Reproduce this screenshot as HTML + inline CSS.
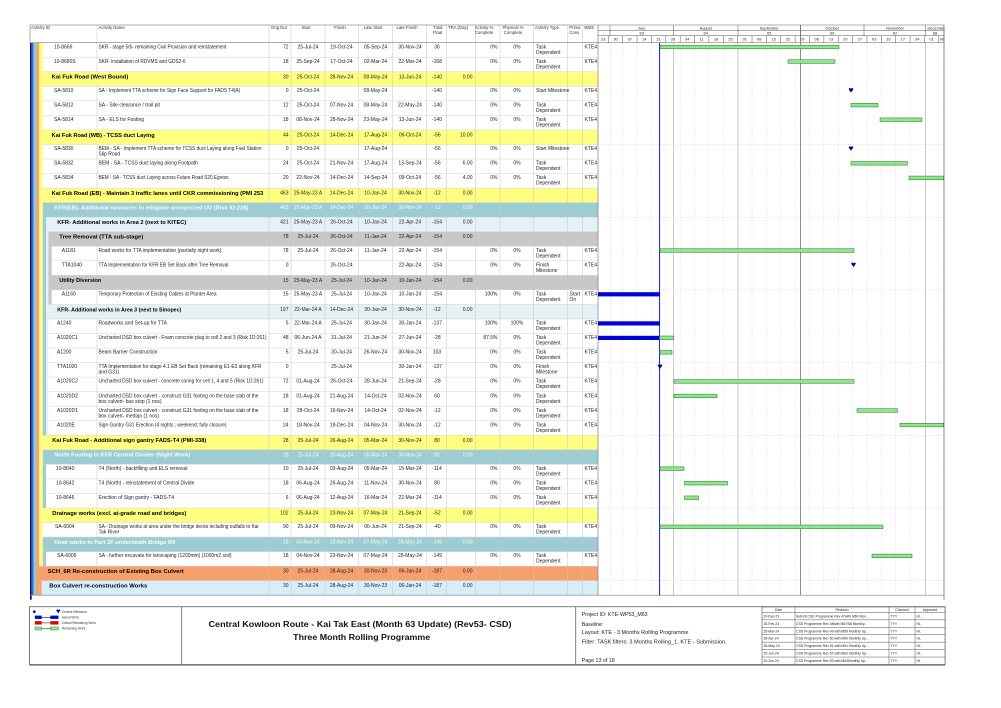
<!DOCTYPE html>
<html><head><meta charset="utf-8"><style>
html,body{margin:0;padding:0;background:#fff;}
svg{display:block}
text{font-family:"Liberation Sans",Arial,sans-serif;}
.a{font-size:5px;fill:#222}
.m{text-anchor:middle}
.e{text-anchor:end}
.b{font-size:5.2px;font-weight:bold;fill:#000}
.w{fill:#f4fbfb}
.h{font-size:4.3px;fill:#333}
.gh{font-size:3.9px;fill:#222}
.lg{font-size:3.2px;fill:#333}
.rv{font-size:3.4px;fill:#222}
.pi{font-size:5.3px;fill:#222}
.ti{font-size:8px;font-weight:bold;fill:#111}
.gb{fill:#8be88b;stroke:#2a6a2a;stroke-width:.5}
.ab{fill:#0000d8}
.ms{fill:#000080}
</style></head><body>
<svg width="1001" height="708" viewBox="0 0 1001 708" xmlns="http://www.w3.org/2000/svg">
<defs><clipPath id="gc"><rect x="598" y="20" width="346" height="580"/></clipPath></defs>
<rect x="0" y="0" width="1001" height="708" fill="#fff"/>

<!-- row fills -->
<g>
<rect x="39.3" y="71.78" width="558.7" height="14.54" fill="#ffff80"/>
<rect x="39.3" y="129.94" width="558.7" height="14.54" fill="#ffff80"/>
<rect x="39.3" y="188.1" width="558.7" height="14.54" fill="#ffff80"/>
<rect x="42.7" y="202.64" width="555.3" height="14.54" fill="#9dcdd2"/>
<rect x="46" y="217.18" width="552" height="14.54" fill="#e4f2f5"/>
<rect x="48.3" y="231.72" width="549.7" height="14.54" fill="#c8c8c8"/>
<rect x="48.3" y="275.34" width="549.7" height="14.54" fill="#c8c8c8"/>
<rect x="46" y="304.42" width="552" height="14.54" fill="#e4f2f5"/>
<rect x="39.3" y="435.28" width="558.7" height="14.54" fill="#ffff80"/>
<rect x="42.7" y="449.82" width="555.3" height="14.54" fill="#9dcdd2"/>
<rect x="39.3" y="507.98" width="558.7" height="14.54" fill="#ffff80"/>
<rect x="42.7" y="537.06" width="555.3" height="14.54" fill="#9dcdd2"/>
<rect x="36" y="566.14" width="562" height="14.54" fill="#f6a06e"/>
<rect x="41.7" y="580.68" width="556.3" height="14.54" fill="#d5eef8"/>
</g>

<!-- horizontal row lines -->
<path stroke="#d4d4d4" stroke-width="0.5" fill="none" d="M42.7 57.24H598M42.7 71.78H598M42.7 86.32H598M42.7 100.86H598M42.7 115.4H598M42.7 129.94H598M42.7 144.48H598M42.7 159.02H598M42.7 173.56H598M42.7 188.1H598M42.7 202.64H598M42.7 217.18H598M42.7 231.72H598M42.7 246.26H598M42.7 260.8H598M42.7 275.34H598M42.7 289.88H598M42.7 304.42H598M42.7 318.96H598M42.7 333.5H598M42.7 348.04H598M42.7 362.58H598M42.7 377.12H598M42.7 391.66H598M42.7 406.2H598M42.7 420.74H598M42.7 435.28H598M42.7 449.82H598M42.7 464.36H598M42.7 478.9H598M42.7 493.44H598M42.7 507.98H598M42.7 522.52H598M42.7 537.06H598M42.7 551.6H598M42.7 566.14H598M42.7 580.68H598"/>

<!-- vertical column lines -->
<path stroke="#c4c4c4" stroke-width="0.5" fill="none" d="M269 25V595.2M291 25V595.2M325 25V595.2M358.3 25V595.2M392.7 25V595.2M426.7 25V595.2M446.7 25V595.2M475.3 25V595.2M500 25V595.2M533.7 25V595.2M567.7 25V595.2M582.7 25V595.2M97 25V42.7M97 42.7V71.78M97 86.32V129.94M97 144.48V188.1M97 246.26V275.34M97 289.88V304.42M97 318.96V435.28M97 464.36V507.98M97 522.52V537.06M97 551.6V566.14"/>

<!-- left stripes -->
<rect x="30" y="42.7" width="1.7" height="557" fill="#101070"/>
<rect x="31.7" y="42.7" width="2" height="552.5" fill="#3470c8"/>
<rect x="33.7" y="42.7" width="2.3" height="552.5" fill="#8ccbe8"/>
<rect x="36" y="42.7" width="3.3" height="552.5" fill="#f4a46e"/>
<rect x="39.3" y="42.7" width="3.4" height="523.44" fill="#ffff80"/>
<rect x="39.3" y="580.68" width="2.4" height="14.54" fill="#f4a46e"/>
<rect x="42.7" y="217.18" width="3.3" height="218.1" fill="#9dcdd2"/>
<rect x="42.7" y="464.36" width="3.3" height="43.62" fill="#9dcdd2"/>
<rect x="42.7" y="551.6" width="3.3" height="14.54" fill="#9dcdd2"/>
<rect x="46" y="231.72" width="2.3" height="72.7" fill="#e4f2f5"/>
<rect x="46" y="318.96" width="2.3" height="116.32" fill="#e4f2f5"/>
<rect x="48.3" y="246.26" width="3.4" height="29.08" fill="#c8c8c8"/>
<rect x="48.3" y="289.88" width="3.4" height="14.54" fill="#c8c8c8"/>

<!-- header -->
<rect x="30" y="25" width="914" height="17.7" fill="none" stroke="#777" stroke-width="0.6"/>
<text class="h" x="31" y="29">Activity ID</text>
<text class="h" x="98.5" y="29">Activity Name</text>
<text class="h" x="271" y="29">Orig Dur</text>
<text class="h m" x="306" y="29">Start</text>
<text class="h m" x="340" y="29">Finish</text>
<text class="h m" x="373" y="29">Late Start</text>
<text class="h m" x="407" y="29">Late Finish</text>
<text class="h e" x="442.5" y="29">Total</text>
<text class="h e" x="442.5" y="34">Float</text>
<text class="h" x="448" y="29">TRA (Day)</text>
<text class="h m" x="484" y="29">Activity %</text>
<text class="h m" x="484" y="34">Complete</text>
<text class="h m" x="513" y="29">Physical %</text>
<text class="h m" x="513" y="34">Complete</text>
<text class="h" x="535" y="29">Activity Type</text>
<text class="h" x="569.3" y="29">Prima</text>
<text class="h" x="569.3" y="34">Cons</text>
<text class="h" x="584.3" y="29">WBS</text>

<!-- gantt header -->
<g clip-path="url(#gc)">
<path stroke="#555" stroke-width="0.5" fill="none" d="M598 30.3H944M598 35.7H944M610 25V35.7M673.5 25V35.7M738 25V35.7M800.5 25V35.7M864 25V35.7M925.5 25V35.7M608.3 35.7V42.7M622.67 35.7V42.7M637.04 35.7V42.7M651.41 35.7V42.7M665.78 35.7V42.7M680.16 35.7V42.7M694.53 35.7V42.7M708.9 35.7V42.7M723.27 35.7V42.7M737.64 35.7V42.7M752.01 35.7V42.7M766.38 35.7V42.7M780.75 35.7V42.7M795.12 35.7V42.7M809.49 35.7V42.7M823.87 35.7V42.7M838.24 35.7V42.7M852.61 35.7V42.7M866.98 35.7V42.7M881.35 35.7V42.7M895.72 35.7V42.7M910.09 35.7V42.7M924.46 35.7V42.7M938.83 35.7V42.7"/>
<text class="gh m" x="641.7" y="29.3">July</text>
<text class="gh m" x="705.7" y="29.3">August</text>
<text class="gh m" x="769.2" y="29.3">September</text>
<text class="gh m" x="832.2" y="29.3">October</text>
<text class="gh m" x="895" y="29.3">November</text>
<text class="gh" x="927.5" y="29.3">December</text>
<text class="gh m" x="641.7" y="34.6">63</text>
<text class="gh m" x="705.7" y="34.6">64</text>
<text class="gh m" x="769.2" y="34.6">65</text>
<text class="gh m" x="832.2" y="34.6">66</text>
<text class="gh m" x="895" y="34.6">67</text>
<text class="gh m" x="935" y="34.6">68</text>
<g class="gh">
<text class="m" x="603.2" y="40.6">23</text>
<text class="m" x="615.5" y="40.6">30</text>
<text class="m" x="629.9" y="40.6">07</text>
<text class="m" x="644.2" y="40.6">14</text>
<text class="m" x="658.6" y="40.6">21</text>
<text class="m" x="673" y="40.6">28</text>
<text class="m" x="687.3" y="40.6">04</text>
<text class="m" x="701.7" y="40.6">11</text>
<text class="m" x="716.1" y="40.6">18</text>
<text class="m" x="730.5" y="40.6">25</text>
<text class="m" x="744.8" y="40.6">01</text>
<text class="m" x="759.2" y="40.6">08</text>
<text class="m" x="773.6" y="40.6">15</text>
<text class="m" x="787.9" y="40.6">22</text>
<text class="m" x="802.3" y="40.6">29</text>
<text class="m" x="816.7" y="40.6">06</text>
<text class="m" x="831.1" y="40.6">13</text>
<text class="m" x="845.4" y="40.6">20</text>
<text class="m" x="859.8" y="40.6">27</text>
<text class="m" x="874.2" y="40.6">03</text>
<text class="m" x="888.5" y="40.6">10</text>
<text class="m" x="902.9" y="40.6">17</text>
<text class="m" x="917.3" y="40.6">24</text>
<text class="m" x="931.6" y="40.6">01</text>
<text x="940" y="40.6">08</text>
</g>
</g>

<!-- gantt body grid -->
<path stroke="#c8c8c8" stroke-width="0.5" stroke-dasharray="1,1.5" fill="none" d="M610.3 42.7V595.2M622.67 42.7V595.2M637.04 42.7V595.2M651.41 42.7V595.2M665.78 42.7V595.2M680.16 42.7V595.2M694.53 42.7V595.2M708.9 42.7V595.2M723.27 42.7V595.2M752.01 42.7V595.2M766.38 42.7V595.2M780.75 42.7V595.2M795.12 42.7V595.2M809.49 42.7V595.2M823.87 42.7V595.2M838.24 42.7V595.2M852.61 42.7V595.2M866.98 42.7V595.2M881.35 42.7V595.2M895.72 42.7V595.2M910.09 42.7V595.2M938.83 42.7V595.2M598 144.48H944M598 217.18H944M598 289.88H944M598 362.58H944M598 435.28H944M598 507.98H944M598 580.68H944"/>
<path stroke="#b4b4b4" stroke-width="0.7" fill="none" d="M673.5 42.7V595.2M738 42.7V595.2M925.5 42.7V595.2"/>
<path stroke="#707070" stroke-width="0.8" fill="none" d="M800.5 25V595.2"/>
<path stroke="#808080" stroke-width="0.7" fill="none" d="M598 25V595.2M30 595.2H944"/>
<path stroke="#707070" stroke-width="0.8" fill="none" d="M944 25V599.5"/>

<!-- data date -->
<path stroke="#0000ff" stroke-width="0.9" d="M659.6 42.7V595.5"/>

<!-- bars -->
<g>
<rect class="gb" x="660" y="45.2" width="179" height="3.6"/>
<rect class="gb" x="788" y="59.74" width="47" height="3.6"/>
<rect class="gb" x="851" y="103.36" width="27" height="3.6"/>
<rect class="gb" x="880" y="117.9" width="42" height="3.6"/>
<rect class="gb" x="851" y="161.52" width="56.5" height="3.6"/>
<rect class="gb" x="909" y="176.06" width="34.5" height="3.6"/>
<rect class="gb" x="660" y="248.76" width="194" height="3.6"/>
<rect class="ab" x="598" y="292.2" width="62" height="4.2"/>
<rect class="ab" x="598" y="321.3" width="62" height="4.2"/>
<rect class="ab" x="598" y="335.8" width="61.5" height="4.2"/>
<rect class="gb" x="659.5" y="336" width="14" height="3.6"/>
<rect class="gb" x="660" y="350.54" width="12" height="3.6"/>
<rect class="gb" x="674" y="379.62" width="180" height="3.6"/>
<rect class="gb" x="674" y="394.16" width="43" height="3.6"/>
<rect class="gb" x="857" y="408.7" width="40.5" height="3.6"/>
<rect class="gb" x="900" y="423.24" width="43.5" height="3.6"/>
<rect class="gb" x="660" y="466.86" width="24" height="3.6"/>
<rect class="gb" x="684.5" y="481.4" width="43" height="3.6"/>
<rect class="gb" x="684.5" y="495.94" width="14" height="3.6"/>
<rect class="gb" x="660" y="525.02" width="223" height="3.6"/>
<rect class="gb" x="872" y="554.1" width="40" height="3.6"/>
<path class="ms" transform="translate(851,88.3)" d="M-2.3 0.9C-2.3-0.3-0.6-0.5 0 0.6 0.6-0.5 2.3-0.3 2.3 0.9L0 4.3Z"/>
<path class="ms" transform="translate(851,146.5)" d="M-2.3 0.9C-2.3-0.3-0.6-0.5 0 0.6 0.6-0.5 2.3-0.3 2.3 0.9L0 4.3Z"/>
<path class="ms" transform="translate(853.5,262.8)" d="M-2.3 0.9C-2.3-0.3-0.6-0.5 0 0.6 0.6-0.5 2.3-0.3 2.3 0.9L0 4.3Z"/>
<path class="ms" transform="translate(660,364.6)" d="M-2.3 0.9C-2.3-0.3-0.6-0.5 0 0.6 0.6-0.5 2.3-0.3 2.3 0.9L0 4.3Z"/>
</g>

<!-- rows -->
<g transform="translate(0,42.7)">
<text class="a" x="54" y="5.6">10-8666</text>
<text class="a" x="98.5" y="5.6" textLength="128" lengthAdjust="spacingAndGlyphs">SKR - stage 5/6- remaining Civil Provision and reinstatement</text>
<text class="a e" x="288.5" y="5.6">72</text><text class="a m" x="308" y="5.6">25-Jul-24</text><text class="a m" x="341.5" y="5.6">19-Oct-24</text><text class="a m" x="375.5" y="5.6">05-Sep-24</text><text class="a m" x="410" y="5.6">30-Nov-24</text><text class="a m" x="437" y="5.6">36</text>
<text class="a e" x="497.5" y="5.6">0%</text><text class="a m" x="517" y="5.6">0%</text><text class="a" x="536" y="5.6">Task</text><text class="a" x="536" y="11.1">Dependent</text><text class="a" x="584.5" y="5.6">KTE4</text>
</g>
<g transform="translate(0,57.24)">
<text class="a" x="54" y="5.6">10-8680S</text>
<text class="a" x="98.5" y="5.6" textLength="87" lengthAdjust="spacingAndGlyphs">SKR- installation of RDVMS and GDS2-6</text>
<text class="a e" x="288.5" y="5.6">18</text><text class="a m" x="308" y="5.6">25-Sep-24</text><text class="a m" x="341.5" y="5.6">17-Oct-24</text><text class="a m" x="375.5" y="5.6">02-Mar-24</text><text class="a m" x="410" y="5.6">22-Mar-24</text><text class="a m" x="437" y="5.6">-168</text>
<text class="a e" x="497.5" y="5.6">0%</text><text class="a m" x="517" y="5.6">0%</text><text class="a" x="536" y="5.6">Task</text><text class="a" x="536" y="11.1">Dependent</text><text class="a" x="584.5" y="5.6">KTE4</text>
</g>
<g transform="translate(0,71.78)">
<text class="b" x="51.7" y="6.9" textLength="76.6" lengthAdjust="spacingAndGlyphs">Kai Fuk Road (West Bound)</text>
<text class="a e" x="288.5" y="6.5">30</text><text class="a m" x="308" y="6.5">25-Oct-24</text><text class="a m" x="341.5" y="6.5">28-Nov-24</text><text class="a m" x="375.5" y="6.5">08-May-24</text><text class="a m" x="410" y="6.5">13-Jun-24</text><text class="a m" x="437" y="6.5">-140</text><text class="a e" x="472.5" y="6.5">0.00</text>
</g>
<g transform="translate(0,86.32)">
<text class="a" x="54" y="5.6">SA-5810</text>
<text class="a" x="98.5" y="5.6" textLength="141.7" lengthAdjust="spacingAndGlyphs">SA - Implement TTA scheme for Sign Face Support for FADS T4(A)</text>
<text class="a e" x="288.5" y="5.6">0</text><text class="a m" x="308" y="5.6">25-Oct-24</text><text class="a m" x="375.5" y="5.6">08-May-24</text><text class="a m" x="437" y="5.6">-140</text>
<text class="a e" x="497.5" y="5.6">0%</text><text class="a m" x="517" y="5.6">0%</text><text class="a" x="536" y="5.6">Start Milestone</text><text class="a" x="584.5" y="5.6">KTE4</text>
</g>
<g transform="translate(0,100.86)">
<text class="a" x="54" y="5.6">SA-5812</text>
<text class="a" x="98.5" y="5.6">SA - Site clearance / trail pit</text>
<text class="a e" x="288.5" y="5.6">12</text><text class="a m" x="308" y="5.6">25-Oct-24</text><text class="a m" x="341.5" y="5.6">07-Nov-24</text><text class="a m" x="375.5" y="5.6">08-May-24</text><text class="a m" x="410" y="5.6">22-May-24</text><text class="a m" x="437" y="5.6">-140</text>
<text class="a e" x="497.5" y="5.6">0%</text><text class="a m" x="517" y="5.6">0%</text><text class="a" x="536" y="5.6">Task</text><text class="a" x="536" y="11.1">Dependent</text><text class="a" x="584.5" y="5.6">KTE4</text>
</g>
<g transform="translate(0,115.4)">
<text class="a" x="54" y="5.6">SA-5814</text>
<text class="a" x="98.5" y="5.6">SA - ELS for Footing</text>
<text class="a e" x="288.5" y="5.6">18</text><text class="a m" x="308" y="5.6">08-Nov-24</text><text class="a m" x="341.5" y="5.6">28-Nov-24</text><text class="a m" x="375.5" y="5.6">23-May-24</text><text class="a m" x="410" y="5.6">13-Jun-24</text><text class="a m" x="437" y="5.6">-140</text>
<text class="a e" x="497.5" y="5.6">0%</text><text class="a m" x="517" y="5.6">0%</text><text class="a" x="536" y="5.6">Task</text><text class="a" x="536" y="11.1">Dependent</text><text class="a" x="584.5" y="5.6">KTE4</text>
</g>
<g transform="translate(0,129.94)">
<text class="b" x="51.7" y="6.9" textLength="103" lengthAdjust="spacingAndGlyphs">Kai Fuk Road (WB) - TCSS duct Laying</text>
<text class="a e" x="288.5" y="6.5">44</text><text class="a m" x="308" y="6.5">25-Oct-24</text><text class="a m" x="341.5" y="6.5">14-Dec-24</text><text class="a m" x="375.5" y="6.5">17-Aug-24</text><text class="a m" x="410" y="6.5">09-Oct-24</text><text class="a m" x="437" y="6.5">-56</text><text class="a e" x="472.5" y="6.5">10.00</text>
</g>
<g transform="translate(0,144.48)">
<text class="a" x="54" y="5.6">SA-5830</text>
<text class="a" x="98.5" y="5.6" textLength="163" lengthAdjust="spacingAndGlyphs">BEM - SA - Implement TTA scheme for TCSS duct Laying along Fuel Station</text>
<text class="a" x="98.5" y="11.1">Slip Road</text>
<text class="a e" x="288.5" y="5.6">0</text><text class="a m" x="308" y="5.6">25-Oct-24</text><text class="a m" x="375.5" y="5.6">17-Aug-24</text><text class="a m" x="437" y="5.6">-56</text>
<text class="a e" x="497.5" y="5.6">0%</text><text class="a m" x="517" y="5.6">0%</text><text class="a" x="536" y="5.6">Start Milestone</text><text class="a" x="584.5" y="5.6">KTE4</text>
</g>
<g transform="translate(0,159.02)">
<text class="a" x="54" y="5.6">SA-5832</text>
<text class="a" x="98.5" y="5.6">BEM - SA - TCSS duct laying along Footpath</text>
<text class="a e" x="288.5" y="5.6">24</text><text class="a m" x="308" y="5.6">25-Oct-24</text><text class="a m" x="341.5" y="5.6">21-Nov-24</text><text class="a m" x="375.5" y="5.6">17-Aug-24</text><text class="a m" x="410" y="5.6">13-Sep-24</text><text class="a m" x="437" y="5.6">-56</text><text class="a e" x="472.5" y="5.6">6.00</text>
<text class="a e" x="497.5" y="5.6">0%</text><text class="a m" x="517" y="5.6">0%</text><text class="a" x="536" y="5.6">Task</text><text class="a" x="536" y="11.1">Dependent</text><text class="a" x="584.5" y="5.6">KTE4</text>
</g>
<g transform="translate(0,173.56)">
<text class="a" x="54" y="5.6">SA-5834</text>
<text class="a" x="98.5" y="5.6" textLength="130" lengthAdjust="spacingAndGlyphs">BEM - SA - TCSS duct Laying across Future Road S20 Egress</text>
<text class="a e" x="288.5" y="5.6">20</text><text class="a m" x="308" y="5.6">22-Nov-24</text><text class="a m" x="341.5" y="5.6">14-Dec-24</text><text class="a m" x="375.5" y="5.6">14-Sep-24</text><text class="a m" x="410" y="5.6">09-Oct-24</text><text class="a m" x="437" y="5.6">-56</text><text class="a e" x="472.5" y="5.6">4.00</text>
<text class="a e" x="497.5" y="5.6">0%</text><text class="a m" x="517" y="5.6">0%</text><text class="a" x="536" y="5.6">Task</text><text class="a" x="536" y="11.1">Dependent</text><text class="a" x="584.5" y="5.6">KTE4</text>
</g>
<g transform="translate(0,188.1)">
<text class="b" x="51.7" y="6.9" textLength="211.6" lengthAdjust="spacingAndGlyphs">Kai Fuk Road (EB) - Maintain 3 traffic lanes until CKR commissioning (PMI 253</text>
<text class="a e" x="288.5" y="6.5">463</text><text class="a m" x="308" y="6.5">25-May-23 A</text><text class="a m" x="341.5" y="6.5">14-Dec-24</text><text class="a m" x="375.5" y="6.5">10-Jan-24</text><text class="a m" x="410" y="6.5">30-Nov-24</text><text class="a m" x="437" y="6.5">-12</text><text class="a e" x="472.5" y="6.5">0.00</text>
</g>
<g transform="translate(0,202.64)">
<text class="b w" x="54.3" y="6.9" textLength="194" lengthAdjust="spacingAndGlyphs">KFR(EB)- Additional measures to mitigiate unexpected UU (Risk ID:228)</text>
<text class="a e w" x="288.5" y="6.5">463</text><text class="a m w" x="308" y="6.5">25-May-23 A</text><text class="a m w" x="341.5" y="6.5">14-Dec-24</text><text class="a m w" x="375.5" y="6.5">10-Jan-24</text><text class="a m w" x="410" y="6.5">30-Nov-24</text><text class="a m w" x="437" y="6.5">-12</text><text class="a e w" x="472.5" y="6.5">0.00</text>
</g>
<g transform="translate(0,217.18)">
<text class="b" x="57.3" y="6.9" textLength="129" lengthAdjust="spacingAndGlyphs">KFR- Additional works in Area 2 (next to KITEC)</text>
<text class="a e" x="288.5" y="6.5">421</text><text class="a m" x="308" y="6.5">25-May-23 A</text><text class="a m" x="341.5" y="6.5">26-Oct-24</text><text class="a m" x="375.5" y="6.5">10-Jan-24</text><text class="a m" x="410" y="6.5">22-Apr-24</text><text class="a m" x="437" y="6.5">-154</text><text class="a e" x="472.5" y="6.5">0.00</text>
</g>
<g transform="translate(0,231.72)">
<text class="b" x="59.3" y="6.9" textLength="84" lengthAdjust="spacingAndGlyphs">Tree Removal (TTA sub-stage)</text>
<text class="a e" x="288.5" y="6.5">78</text><text class="a m" x="308" y="6.5">25-Jul-24</text><text class="a m" x="341.5" y="6.5">26-Oct-24</text><text class="a m" x="375.5" y="6.5">11-Jan-24</text><text class="a m" x="410" y="6.5">22-Apr-24</text><text class="a m" x="437" y="6.5">-154</text><text class="a e" x="472.5" y="6.5">0.00</text>
</g>
<g transform="translate(0,246.26)">
<text class="a" x="61.7" y="5.6">A1181</text>
<text class="a" x="98.5" y="5.6" textLength="123" lengthAdjust="spacingAndGlyphs">Road works for TTA implementation (partially night work)</text>
<text class="a e" x="288.5" y="5.6">78</text><text class="a m" x="308" y="5.6">25-Jul-24</text><text class="a m" x="341.5" y="5.6">26-Oct-24</text><text class="a m" x="375.5" y="5.6">11-Jan-24</text><text class="a m" x="410" y="5.6">22-Apr-24</text><text class="a m" x="437" y="5.6">-154</text>
<text class="a e" x="497.5" y="5.6">0%</text><text class="a m" x="517" y="5.6">0%</text><text class="a" x="536" y="5.6">Task</text><text class="a" x="536" y="11.1">Dependent</text><text class="a" x="584.5" y="5.6">KTE4</text>
</g>
<g transform="translate(0,260.8)">
<text class="a" x="61.7" y="5.6">TTA1040</text>
<text class="a" x="98.5" y="5.6" textLength="130" lengthAdjust="spacingAndGlyphs">TTA Implementation for KFR EB Set Back after Tree Removal</text>
<text class="a e" x="288.5" y="5.6">0</text><text class="a m" x="341.5" y="5.6">26-Oct-24</text><text class="a m" x="410" y="5.6">22-Apr-24</text><text class="a m" x="437" y="5.6">-154</text>
<text class="a e" x="497.5" y="5.6">0%</text><text class="a m" x="517" y="5.6">0%</text><text class="a" x="536" y="5.6">Finish</text><text class="a" x="536" y="11.1">Milestone</text><text class="a" x="584.5" y="5.6">KTE4</text>
</g>
<g transform="translate(0,275.34)">
<text class="b" x="59.3" y="6.9" textLength="42" lengthAdjust="spacingAndGlyphs">Utility Diversion</text>
<text class="a e" x="288.5" y="6.5">15</text><text class="a m" x="308" y="6.5">25-May-23 A</text><text class="a m" x="341.5" y="6.5">25-Jul-24</text><text class="a m" x="375.5" y="6.5">10-Jan-24</text><text class="a m" x="410" y="6.5">10-Jan-24</text><text class="a m" x="437" y="6.5">-154</text><text class="a e" x="472.5" y="6.5">0.00</text>
</g>
<g transform="translate(0,289.88)">
<text class="a" x="61.7" y="5.6">A1160</text>
<text class="a" x="98.5" y="5.6" textLength="118" lengthAdjust="spacingAndGlyphs">Temporary Protection of Existing Cables at Planter Area</text>
<text class="a e" x="288.5" y="5.6">15</text><text class="a m" x="308" y="5.6">25-May-23 A</text><text class="a m" x="341.5" y="5.6">25-Jul-24</text><text class="a m" x="375.5" y="5.6">10-Jan-24</text><text class="a m" x="410" y="5.6">10-Jan-24</text><text class="a m" x="437" y="5.6">-154</text>
<text class="a e" x="497.5" y="5.6">100%</text><text class="a m" x="517" y="5.6">0%</text><text class="a" x="536" y="5.6">Task</text><text class="a" x="536" y="11.1">Dependent</text><text class="a" x="569.5" y="5.6">Start</text><text class="a" x="569.5" y="11.1">On</text><text class="a" x="584.5" y="5.6">KTE4</text>
</g>
<g transform="translate(0,304.42)">
<text class="b" x="57.3" y="6.9" textLength="124" lengthAdjust="spacingAndGlyphs">KFR- Additional works in Area 3 (next to Sinopec)</text>
<text class="a e" x="288.5" y="6.5">197</text><text class="a m" x="308" y="6.5">22-Mar-24 A</text><text class="a m" x="341.5" y="6.5">14-Dec-24</text><text class="a m" x="375.5" y="6.5">30-Jan-24</text><text class="a m" x="410" y="6.5">30-Nov-24</text><text class="a m" x="437" y="6.5">-12</text><text class="a e" x="472.5" y="6.5">0.00</text>
</g>
<g transform="translate(0,318.96)">
<text class="a" x="57" y="5.6">A1240</text>
<text class="a" x="98.5" y="5.6">Roadworks and Set-up for TTA</text>
<text class="a e" x="288.5" y="5.6">5</text><text class="a m" x="308" y="5.6">22-Mar-24 A</text><text class="a m" x="341.5" y="5.6">25-Jul-24</text><text class="a m" x="375.5" y="5.6">30-Jan-24</text><text class="a m" x="410" y="5.6">30-Jan-24</text><text class="a m" x="437" y="5.6">-137</text>
<text class="a e" x="497.5" y="5.6">100%</text><text class="a m" x="517" y="5.6">100%</text><text class="a" x="536" y="5.6">Task</text><text class="a" x="536" y="11.1">Dependent</text><text class="a" x="584.5" y="5.6">KTE4</text>
</g>
<g transform="translate(0,333.5)">
<text class="a" x="57" y="5.6">A1020C1</text>
<text class="a" x="98.5" y="5.6" textLength="168" lengthAdjust="spacingAndGlyphs">Uncharted DSD box culvert - Foam concrete plug to cell 2 and 3 (Risk 1D:261)</text>
<text class="a e" x="288.5" y="5.6">48</text><text class="a m" x="308" y="5.6">06-Jun-24 A</text><text class="a m" x="341.5" y="5.6">31-Jul-24</text><text class="a m" x="375.5" y="5.6">21-Jun-24</text><text class="a m" x="410" y="5.6">27-Jun-24</text><text class="a m" x="437" y="5.6">-28</text>
<text class="a e" x="497.5" y="5.6">87.5%</text><text class="a m" x="517" y="5.6">0%</text><text class="a" x="536" y="5.6">Task</text><text class="a" x="536" y="11.1">Dependent</text><text class="a" x="584.5" y="5.6">KTE4</text>
</g>
<g transform="translate(0,348.04)">
<text class="a" x="57" y="5.6">A1200</text>
<text class="a" x="98.5" y="5.6">Beam Barrier Construction</text>
<text class="a e" x="288.5" y="5.6">5</text><text class="a m" x="308" y="5.6">25-Jul-24</text><text class="a m" x="341.5" y="5.6">30-Jul-24</text><text class="a m" x="375.5" y="5.6">26-Nov-24</text><text class="a m" x="410" y="5.6">30-Nov-24</text><text class="a m" x="437" y="5.6">103</text>
<text class="a e" x="497.5" y="5.6">0%</text><text class="a m" x="517" y="5.6">0%</text><text class="a" x="536" y="5.6">Task</text><text class="a" x="536" y="11.1">Dependent</text><text class="a" x="584.5" y="5.6">KTE4</text>
</g>
<g transform="translate(0,362.58)">
<text class="a" x="57" y="5.6">TTA1020</text>
<text class="a" x="98.5" y="5.6" textLength="163" lengthAdjust="spacingAndGlyphs">TTA Implementation for stage 4.1 EB Set Back (remaining E1-E3 along KFR</text>
<text class="a" x="98.5" y="11.1">and G31)</text>
<text class="a e" x="288.5" y="5.6">0</text><text class="a m" x="341.5" y="5.6">25-Jul-24</text><text class="a m" x="410" y="5.6">30-Jan-24</text><text class="a m" x="437" y="5.6">-137</text>
<text class="a e" x="497.5" y="5.6">0%</text><text class="a m" x="517" y="5.6">0%</text><text class="a" x="536" y="5.6">Finish</text><text class="a" x="536" y="11.1">Milestone</text><text class="a" x="584.5" y="5.6">KTE4</text>
</g>
<g transform="translate(0,377.12)">
<text class="a" x="57" y="5.6">A1020C2</text>
<text class="a" x="98.5" y="5.6" textLength="165" lengthAdjust="spacingAndGlyphs">Uncharted DSD box culvert - concrete coring for cell 1, 4 and 5 (Risk 1D:261)</text>
<text class="a e" x="288.5" y="5.6">72</text><text class="a m" x="308" y="5.6">01-Aug-24</text><text class="a m" x="341.5" y="5.6">26-Oct-24</text><text class="a m" x="375.5" y="5.6">28-Jun-24</text><text class="a m" x="410" y="5.6">21-Sep-24</text><text class="a m" x="437" y="5.6">-28</text>
<text class="a e" x="497.5" y="5.6">0%</text><text class="a m" x="517" y="5.6">0%</text><text class="a" x="536" y="5.6">Task</text><text class="a" x="536" y="11.1">Dependent</text><text class="a" x="584.5" y="5.6">KTE4</text>
</g>
<g transform="translate(0,391.66)">
<text class="a" x="57" y="5.6">A1020D2</text>
<text class="a" x="98.5" y="5.6" textLength="160" lengthAdjust="spacingAndGlyphs">Uncharted DSD box culvert - construct G31 footing on the base slab of the</text>
<text class="a" x="98.5" y="11.1">box culvert- bus stop (1 nos)</text>
<text class="a e" x="288.5" y="5.6">18</text><text class="a m" x="308" y="5.6">01-Aug-24</text><text class="a m" x="341.5" y="5.6">21-Aug-24</text><text class="a m" x="375.5" y="5.6">14-Oct-24</text><text class="a m" x="410" y="5.6">02-Nov-24</text><text class="a m" x="437" y="5.6">60</text>
<text class="a e" x="497.5" y="5.6">0%</text><text class="a m" x="517" y="5.6">0%</text><text class="a" x="536" y="5.6">Task</text><text class="a" x="536" y="11.1">Dependent</text><text class="a" x="584.5" y="5.6">KTE4</text>
</g>
<g transform="translate(0,406.2)">
<text class="a" x="57" y="5.6">A1020D1</text>
<text class="a" x="98.5" y="5.6" textLength="160" lengthAdjust="spacingAndGlyphs">Uncharted DSD box culvert - construct G31 footing on the base slab of the</text>
<text class="a" x="98.5" y="11.1">box culvert- median (1 nos)</text>
<text class="a e" x="288.5" y="5.6">18</text><text class="a m" x="308" y="5.6">28-Oct-24</text><text class="a m" x="341.5" y="5.6">16-Nov-24</text><text class="a m" x="375.5" y="5.6">14-Oct-24</text><text class="a m" x="410" y="5.6">02-Nov-24</text><text class="a m" x="437" y="5.6">-12</text>
<text class="a e" x="497.5" y="5.6">0%</text><text class="a m" x="517" y="5.6">0%</text><text class="a" x="536" y="5.6">Task</text><text class="a" x="536" y="11.1">Dependent</text><text class="a" x="584.5" y="5.6">KTE4</text>
</g>
<g transform="translate(0,420.74)">
<text class="a" x="57" y="5.6">A1020E</text>
<text class="a" x="98.5" y="5.6" textLength="128" lengthAdjust="spacingAndGlyphs">Sign Gantry G31 Erection (4 nights ; weekend; fully closure)</text>
<text class="a e" x="288.5" y="5.6">24</text><text class="a m" x="308" y="5.6">18-Nov-24</text><text class="a m" x="341.5" y="5.6">19-Dec-24</text><text class="a m" x="375.5" y="5.6">04-Nov-24</text><text class="a m" x="410" y="5.6">30-Nov-24</text><text class="a m" x="437" y="5.6">-12</text>
<text class="a e" x="497.5" y="5.6">0%</text><text class="a m" x="517" y="5.6">0%</text><text class="a" x="536" y="5.6">Task</text><text class="a" x="536" y="11.1">Dependent</text><text class="a" x="584.5" y="5.6">KTE4</text>
</g>
<g transform="translate(0,435.28)">
<text class="b" x="52.3" y="6.9" textLength="154" lengthAdjust="spacingAndGlyphs">Kai Fuk Road - Additional sign gantry FADS-T4 (PMI-338)</text>
<text class="a e" x="288.5" y="6.5">28</text><text class="a m" x="308" y="6.5">25-Jul-24</text><text class="a m" x="341.5" y="6.5">26-Aug-24</text><text class="a m" x="375.5" y="6.5">05-Mar-24</text><text class="a m" x="410" y="6.5">30-Nov-24</text><text class="a m" x="437" y="6.5">80</text><text class="a e" x="472.5" y="6.5">0.00</text>
</g>
<g transform="translate(0,449.82)">
<text class="b w" x="54.3" y="6.9" textLength="136" lengthAdjust="spacingAndGlyphs">North Footing in KFR Central Divider (Night Work)</text>
<text class="a e w" x="288.5" y="6.5">28</text><text class="a m w" x="308" y="6.5">25-Jul-24</text><text class="a m w" x="341.5" y="6.5">26-Aug-24</text><text class="a m w" x="375.5" y="6.5">05-Mar-24</text><text class="a m w" x="410" y="6.5">30-Nov-24</text><text class="a m w" x="437" y="6.5">80</text><text class="a e w" x="472.5" y="6.5">0.00</text>
</g>
<g transform="translate(0,464.36)">
<text class="a" x="56" y="5.6">10-8640</text>
<text class="a" x="98.5" y="5.6">T4 (North) - backfilling and ELS removal</text>
<text class="a e" x="288.5" y="5.6">10</text><text class="a m" x="308" y="5.6">25-Jul-24</text><text class="a m" x="341.5" y="5.6">03-Aug-24</text><text class="a m" x="375.5" y="5.6">05-Mar-24</text><text class="a m" x="410" y="5.6">15-Mar-24</text><text class="a m" x="437" y="5.6">-114</text>
<text class="a e" x="497.5" y="5.6">0%</text><text class="a m" x="517" y="5.6">0%</text><text class="a" x="536" y="5.6">Task</text><text class="a" x="536" y="11.1">Dependent</text><text class="a" x="584.5" y="5.6">KTE4</text>
</g>
<g transform="translate(0,478.9)">
<text class="a" x="56" y="5.6">10-8642</text>
<text class="a" x="98.5" y="5.6">T4 (North) -  reinstatement of Central Divide</text>
<text class="a e" x="288.5" y="5.6">18</text><text class="a m" x="308" y="5.6">06-Aug-24</text><text class="a m" x="341.5" y="5.6">26-Aug-24</text><text class="a m" x="375.5" y="5.6">11-Nov-24</text><text class="a m" x="410" y="5.6">30-Nov-24</text><text class="a m" x="437" y="5.6">80</text>
<text class="a e" x="497.5" y="5.6">0%</text><text class="a m" x="517" y="5.6">0%</text><text class="a" x="536" y="5.6">Task</text><text class="a" x="536" y="11.1">Dependent</text><text class="a" x="584.5" y="5.6">KTE4</text>
</g>
<g transform="translate(0,493.44)">
<text class="a" x="56" y="5.6">10-8646</text>
<text class="a" x="98.5" y="5.6">Erection of Sign gantry - FADS-T4</text>
<text class="a e" x="288.5" y="5.6">6</text><text class="a m" x="308" y="5.6">06-Aug-24</text><text class="a m" x="341.5" y="5.6">12-Aug-24</text><text class="a m" x="375.5" y="5.6">16-Mar-24</text><text class="a m" x="410" y="5.6">22-Mar-24</text><text class="a m" x="437" y="5.6">-114</text>
<text class="a e" x="497.5" y="5.6">0%</text><text class="a m" x="517" y="5.6">0%</text><text class="a" x="536" y="5.6">Task</text><text class="a" x="536" y="11.1">Dependent</text><text class="a" x="584.5" y="5.6">KTE4</text>
</g>
<g transform="translate(0,507.98)">
<text class="b" x="52.3" y="6.9" textLength="134" lengthAdjust="spacingAndGlyphs">Drainage works (excl. at-grade road and bridges)</text>
<text class="a e" x="288.5" y="6.5">102</text><text class="a m" x="308" y="6.5">25-Jul-24</text><text class="a m" x="341.5" y="6.5">23-Nov-24</text><text class="a m" x="375.5" y="6.5">07-May-24</text><text class="a m" x="410" y="6.5">21-Sep-24</text><text class="a m" x="437" y="6.5">-52</text><text class="a e" x="472.5" y="6.5">0.00</text>
</g>
<g transform="translate(0,522.52)">
<text class="a" x="55" y="5.6">SA-6004</text>
<text class="a" x="98.5" y="5.6" textLength="160" lengthAdjust="spacingAndGlyphs">SA - Drainage works at area under the bridge decks including outfalls to Kai</text>
<text class="a" x="98.5" y="11.1">Tak River</text>
<text class="a e" x="288.5" y="5.6">90</text><text class="a m" x="308" y="5.6">25-Jul-24</text><text class="a m" x="341.5" y="5.6">09-Nov-24</text><text class="a m" x="375.5" y="5.6">06-Jun-24</text><text class="a m" x="410" y="5.6">21-Sep-24</text><text class="a m" x="437" y="5.6">-40</text>
<text class="a e" x="497.5" y="5.6">0%</text><text class="a m" x="517" y="5.6">0%</text><text class="a" x="536" y="5.6">Task</text><text class="a" x="536" y="11.1">Dependent</text><text class="a" x="584.5" y="5.6">KTE4</text>
</g>
<g transform="translate(0,537.06)">
<text class="b w" x="54.3" y="6.9" textLength="121" lengthAdjust="spacingAndGlyphs">Final works in Part 2F underneath Bridge B9</text>
<text class="a e w" x="288.5" y="6.5">18</text><text class="a m w" x="308" y="6.5">04-Nov-24</text><text class="a m w" x="341.5" y="6.5">23-Nov-24</text><text class="a m w" x="375.5" y="6.5">07-May-24</text><text class="a m w" x="410" y="6.5">28-May-24</text><text class="a m w" x="437" y="6.5">-149</text><text class="a e w" x="472.5" y="6.5">0.00</text>
</g>
<g transform="translate(0,551.6)">
<text class="a" x="57" y="5.6">SA-6005</text>
<text class="a" x="98.5" y="5.6" textLength="133" lengthAdjust="spacingAndGlyphs">SA - further excavate for lanscaping (1200mm)  (1000m2 soil)</text>
<text class="a e" x="288.5" y="5.6">18</text><text class="a m" x="308" y="5.6">04-Nov-24</text><text class="a m" x="341.5" y="5.6">23-Nov-24</text><text class="a m" x="375.5" y="5.6">07-May-24</text><text class="a m" x="410" y="5.6">28-May-24</text><text class="a m" x="437" y="5.6">-149</text>
<text class="a e" x="497.5" y="5.6">0%</text><text class="a m" x="517" y="5.6">0%</text><text class="a" x="536" y="5.6">Task</text><text class="a" x="536" y="11.1">Dependent</text><text class="a" x="584.5" y="5.6">KTE4</text>
</g>
<g transform="translate(0,566.14)">
<text class="b" x="47.7" y="6.9" textLength="136" lengthAdjust="spacingAndGlyphs">SCH_6R Re-construction of Existing Box Culvert</text>
<text class="a e" x="288.5" y="6.5">30</text><text class="a m" x="308" y="6.5">25-Jul-24</text><text class="a m" x="341.5" y="6.5">28-Aug-24</text><text class="a m" x="375.5" y="6.5">30-Nov-23</text><text class="a m" x="410" y="6.5">06-Jan-24</text><text class="a m" x="437" y="6.5">-187</text><text class="a e" x="472.5" y="6.5">0.00</text>
</g>
<g transform="translate(0,580.68)">
<text class="b" x="49.3" y="6.9" textLength="98" lengthAdjust="spacingAndGlyphs">Box Culvert re-construction Works</text>
<text class="a e" x="288.5" y="6.5">30</text><text class="a m" x="308" y="6.5">25-Jul-24</text><text class="a m" x="341.5" y="6.5">28-Aug-24</text><text class="a m" x="375.5" y="6.5">30-Nov-23</text><text class="a m" x="410" y="6.5">06-Jan-24</text><text class="a m" x="437" y="6.5">-187</text><text class="a e" x="472.5" y="6.5">0.00</text>
</g>

<!-- footer -->
<rect x="29.5" y="606.7" width="915.5" height="57.8" fill="none" stroke="#707070" stroke-width="0.9"/>
<path stroke="#707070" stroke-width="0.9" d="M181.7 606.7V664.5M575.7 606.7V664.5"/>
<path stroke="#707070" stroke-width="0.8" d="M29.5 665.2H945"/>

<!-- legend -->
<polygon points="34.3,610 36,611.7 34.3,613.4 32.6,611.7" fill="#0000a0"/>
<path fill="#0000c0" transform="translate(58.3,609.6)" d="M-2 0.8C-2-0.3-0.5-0.4 0 0.5 0.5-0.4 2-0.3 2 0.8L0 3.8Z"/>
<text class="lg" x="61.7" y="612.8">Current Milestone</text>
<rect x="35" y="615.8" width="6.5" height="3" fill="#0000e0" stroke="#000080" stroke-width="0.3"/>
<path d="M41.5 617.3H50.5" stroke="#000080" stroke-width="0.6"/>
<rect x="50.5" y="615.8" width="7.8" height="3" fill="#0000e0" stroke="#000080" stroke-width="0.3"/>
<text class="lg" x="61.7" y="618.4">Actual Work</text>
<rect x="35" y="621.4" width="6.5" height="3" fill="#e00000" stroke="#800000" stroke-width="0.3"/>
<path d="M41.5 622.9H50.5" stroke="#800000" stroke-width="0.6"/>
<rect x="50.5" y="621.4" width="7.8" height="3" fill="#e00000" stroke="#800000" stroke-width="0.3"/>
<text class="lg" x="61.7" y="624">Critical Remaining Work</text>
<rect x="35" y="627" width="6.5" height="3" fill="#90ee90" stroke="#006000" stroke-width="0.4"/>
<path d="M41.5 628.5H50.5" stroke="#006000" stroke-width="0.6"/>
<rect x="50.5" y="627" width="7.8" height="3" fill="#90ee90" stroke="#006000" stroke-width="0.4"/>
<text class="lg" x="61.7" y="629.6">Remaining Work</text>

<!-- title -->
<text class="ti m" x="360" y="627.2" textLength="303" lengthAdjust="spacingAndGlyphs">Central Kowloon Route - Kai Tak East (Month 63 Update) (Rev53- CSD)</text>
<text class="ti m" x="361.7" y="640.2" textLength="137" lengthAdjust="spacingAndGlyphs">Three Month Rolling Programme</text>

<!-- project info -->
<text class="pi" x="581.7" y="616.1">Project ID: KTE-WP53_M63</text>
<text class="pi" x="581.7" y="626.1">Baseline:</text>
<text class="pi" x="581.7" y="634.1" textLength="106.7" lengthAdjust="spacingAndGlyphs">Layout: KTE - 3 Months Rolling Programme</text>
<text class="pi" x="581.7" y="643.5" textLength="145" lengthAdjust="spacingAndGlyphs">Filter: TASK filters: 3 Months Rolling_1, KTE - Submission.</text>
<text class="pi" x="581.7" y="661.8">Page 13 of 18</text>

<!-- revision table -->
<rect x="762" y="607" width="183" height="57.5" fill="#fff" stroke="#555" stroke-width="0.6"/>
<path stroke="#555" stroke-width="0.5" fill="none" d="M762 612.4H945M762 619.84H945M762 627.28H945M762 634.72H945M762 642.16H945M762 649.6H945M762 657.04H945M795 607V664.5M889 607V664.5M915 607V664.5"/>
<text class="rv m" x="778.5" y="611">Date</text>
<text class="rv m" x="842" y="611">Revision</text>
<text class="rv m" x="902" y="611">Checked</text>
<text class="rv m" x="930" y="611">Approved</text>
<g class="rv">
<text x="763.5" y="617.4">20-Dec-23</text><text x="796" y="617.4">Submit CSD Programme Rev 47with M60 Mon...</text><text x="890.5" y="617.4">TYY</text><text x="916.5" y="617.4">HL</text>
<text x="763.5" y="624.8">26-Feb-24</text><text x="796" y="624.8">CSD Programme Rev 48with M57/58 Monthly...</text><text x="890.5" y="624.8">TYY</text><text x="916.5" y="624.8">HL</text>
<text x="763.5" y="632.3">25-Mar-24</text><text x="796" y="632.3">CSD Programme Rev 49 with M59 Monthly Up...</text><text x="890.5" y="632.3">TYY</text><text x="916.5" y="632.3">HL</text>
<text x="763.5" y="639.7">26-Apr-24</text><text x="796" y="639.7">CSD Programme Rev 50 with M60 Monthly Up...</text><text x="890.5" y="639.7">TYY</text><text x="916.5" y="639.7">HL</text>
<text x="763.5" y="647.2">28-May-24</text><text x="796" y="647.2">CSD Programme Rev 51 with M61 Monthly Up...</text><text x="890.5" y="647.2">TYY</text><text x="916.5" y="647.2">HL</text>
<text x="763.5" y="654.6">25-Jun-24</text><text x="796" y="654.6">CSD Programme Rev 52 with M62 Monthly Up...</text><text x="890.5" y="654.6">TYY</text><text x="916.5" y="654.6">HL</text>
<text x="763.5" y="662">20-Jun-24</text><text x="796" y="662">CSD Programme Rev 53 with M63Monthly Up...</text><text x="890.5" y="662">TYY</text><text x="916.5" y="662">HL</text>
</g>
</svg>
</body></html>
